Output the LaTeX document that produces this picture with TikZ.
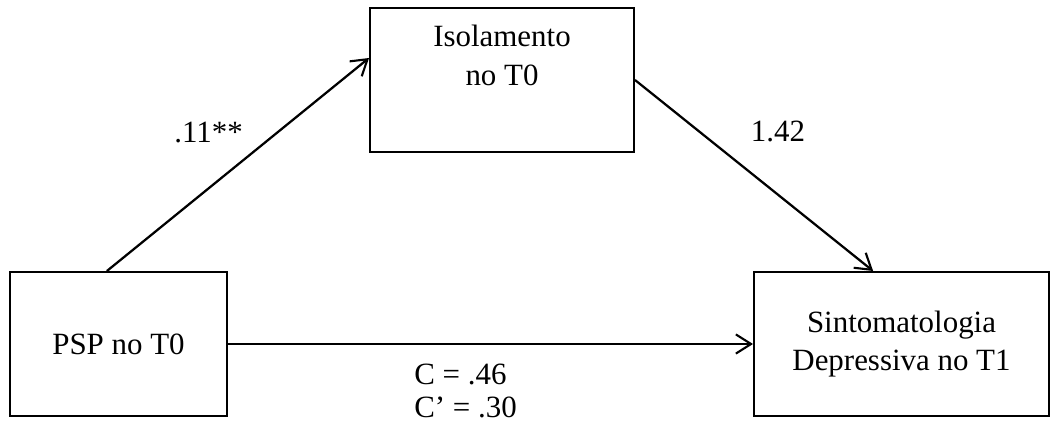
\documentclass[tikz,border=0pt]{standalone}
\usepackage{fontspec}
\setmainfont{Liberation Serif}
\usetikzlibrary{positioning, arrows.meta}

\begin{document}
\begin{tikzpicture}[
    box/.style={rectangle, draw, line width=1.4pt, minimum height=3.6cm, align=center,
        font=\fontsize{22}{27.5}\selectfont},
    arrow/.style={-{Straight Barb[length=3.8mm, width=4.8mm, line width=1.5pt]}, line width=1.6pt},
    coef/.style={inner sep=0pt, align=left, font=\fontsize{22}{23.5}\selectfont}
]
% canvas
\useasboundingbox[fill=white] (0,0) rectangle (26.425,10.575);

% Boxes
\node[box, minimum width=5.425cm] (psp) at (2.9625, 1.975) {PSP no T0};
\node[box, minimum width=6.6cm] (iso) at (12.55, 8.575) {};
\node[coef, align=center, font=\fontsize{22}{27.5}\selectfont] (isotxt) at ([yshift=0.62cm]iso.center) {Isolamento\\no T0};
\node[box, minimum width=7.375cm] (dep) at (22.5375, 1.975) {Sintomatologia\\Depressiva no T1};

% Paths
\draw[arrow] ([xshift=-0.29cm]psp.north) -- ([yshift=0.55cm]iso.west);
\draw[arrow] (iso.east) -- ([xshift=-0.71cm]dep.north);
\draw[arrow] (psp.east) -- (dep.west);

% Coefficients
\node[coef] (a) at (5.2125, 7.25) {.11**};
\node[coef] (b) at (19.45, 7.3) {1.42};
\node[coef, anchor=west] (c) at (10.35, 0.8) {C = .46\\C’ = .30};

\end{tikzpicture}
\end{document}
